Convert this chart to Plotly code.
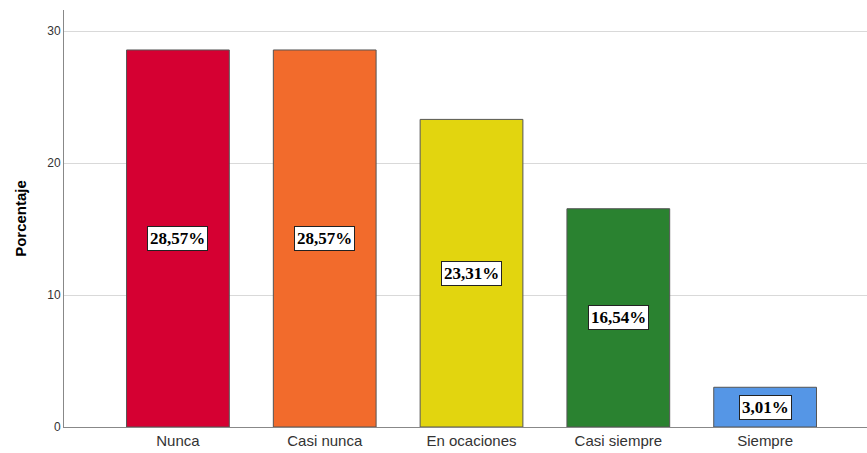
import plotly.graph_objects as go

categories = ["Nunca", "Casi nunca", "En ocaciones", "Casi siempre", "Siempre"]
values = [28.57, 28.57, 23.31, 16.54, 3.01]
labels = ["28,57%", "28,57%", "23,31%", "16,54%", "3,01%"]
colors = ["#D50032", "#F26B2C", "#E2D50F", "#2A8230", "#5596E6"]
y_ticks = [0, 10, 20, 30]

fig = go.Figure()
fig.add_trace(go.Bar(
    x=categories, y=values, width=0.7,
    marker=dict(color=colors, line=dict(color="#555555", width=1)),
    hoverinfo="skip",
))

for c, v, t in zip(categories, values, labels):
    fig.add_annotation(
        x=c, y=v / 2, text="<b>" + t + "</b>", showarrow=False,
        font=dict(family="Liberation Serif", size=17, color="black"),
        bgcolor="white", bordercolor="#222222", borderwidth=1, borderpad=2,
    )

fig.update_layout(
    width=867, height=453,
    margin=dict(l=64, r=0, t=10, b=26),
    plot_bgcolor="white", paper_bgcolor="white",
    showlegend=False,
    xaxis=dict(
        range=[-0.776, 4.694], showgrid=False, showline=True,
        linecolor="#888888", linewidth=1, ticks="",
        tickfont=dict(family="Liberation Sans", size=15, color="#333333"),
    ),
    yaxis=dict(
        range=[0, 31.6], tickvals=y_ticks, showgrid=True,
        gridcolor="#D9D9D9", gridwidth=1, showline=True,
        linecolor="#888888", linewidth=1, ticks="", zeroline=False,
        tickfont=dict(family="Liberation Sans", size=12, color="#333333"),
        title=dict(text="<b>Porcentaje</b>", font=dict(family="Liberation Sans", size=15, color="black"), standoff=16),
    ),
)

fig.write_html("out.html")
